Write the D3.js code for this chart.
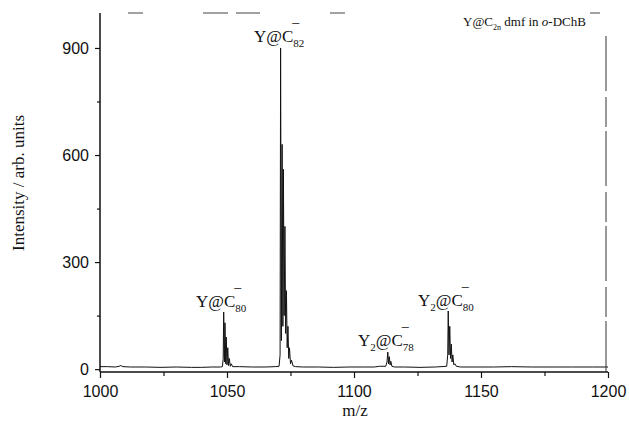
<!DOCTYPE html>
<meta charset="utf-8">
<style>
  body { margin: 0; background: #fff; }
  .tick text { font-family: "Liberation Sans", Arial, sans-serif; font-size: 16px; fill: #111; }
  .lbl { font-family: "Liberation Serif", "Times New Roman", serif; fill: #111; }
</style>
<svg width="629" height="426"></svg>
<script src="https://d3js.org/d3.v7.min.js"></script>
<script>
// spectrum
var mz = [1000, 1003, 1006, 1007.5, 1008.2, 1009, 1012, 1018, 1024, 1030, 1036, 1040, 1044, 1047.5,
  1048.2, 1048.5, 1048.7, 1049.0, 1049.2, 1049.5, 1049.7, 1050.0, 1050.3, 1050.6, 1050.9, 1051.3, 1051.7, 1052.2,
  1055, 1060, 1065, 1069, 1070.5, 1070.9, 1071.1, 1071.4, 1071.7, 1072.0, 1072.2, 1072.5, 1072.8, 1073.1,
  1073.4, 1073.7, 1074.0, 1074.3, 1074.6, 1075.0, 1075.4, 1076, 1077, 1080, 1086, 1092, 1098, 1104, 1108,
  1110, 1112.5, 1113.0, 1113.3, 1113.6, 1113.9, 1114.2, 1114.5, 1114.9, 1116, 1120, 1126, 1132, 1136.5,
  1136.9, 1137.1, 1137.4, 1137.7, 1138.0, 1138.3, 1138.6, 1138.9, 1139.3, 1139.7, 1140.3, 1142, 1148, 1155,
  1162, 1170, 1178, 1186, 1194, 1200];
var intensity = [7, 7, 6, 8, 10, 7, 6, 6, 5, 6, 5, 5, 6, 6,
  7, 30, 160, 20, 130, 15, 90, 12, 60, 10, 30, 8, 15, 7,
  7, 6, 6, 7, 8, 40, 900, 80, 630, 120, 560, 150, 400, 100,
  220, 60, 120, 30, 60, 15, 25, 9, 7, 6, 6, 5, 6, 6, 6,
  8, 8, 20, 48, 15, 35, 12, 22, 8, 6, 6, 5, 6, 8,
  40, 163, 40, 120, 30, 70, 20, 40, 12, 15, 8, 6, 6, 6,
  7, 6, 6, 6, 6, 6];
var xTicks = [1000, 1050, 1100, 1150, 1200];
var xMinor = [1025, 1075, 1125, 1175];
var yTicks = [0, 300, 600, 900];
var yMinor = [150, 450, 750];
var peakLabels = [
  {pre: "Y", n: "", post: "@C", sub: "82", mz: 1071.1, x: 254, y: 42},
  {pre: "Y", n: "", post: "@C", sub: "80", mz: 1048.7, x: 196, y: 307},
  {pre: "Y", n: "2", post: "@C", sub: "78", mz: 1113.3, x: 358, y: 346},
  {pre: "Y", n: "2", post: "@C", sub: "80", mz: 1137.1, x: 418, y: 306}
];

var svg = d3.select("svg");
var x = d3.scaleLinear().domain([1000, 1200]).range([100, 608]);
var y = d3.scaleLinear().domain([-8, 998]).range([372, 13]);

var pts = mz.map(function(d, i) { return [d, intensity[i]]; });

svg.append("path")
  .datum(pts)
  .attr("fill", "none")
  .attr("stroke", "#111")
  .attr("stroke-width", 1)
  .attr("d", d3.line().x(function(d) { return x(d[0]); }).y(function(d) { return y(d[1]); }));

// axes
var xAxis = svg.append("g").attr("transform", "translate(0,372)")
  .call(d3.axisBottom(x).tickValues(xTicks).tickFormat(d3.format("d")).tickSize(6).tickPadding(8));
svg.append("g").attr("transform", "translate(0,372)")
  .call(d3.axisBottom(x).tickValues(xMinor).tickFormat("").tickSize(4))
  .select(".domain").remove();
var yAxis = svg.append("g").attr("transform", "translate(100,0)")
  .call(d3.axisLeft(y).tickValues(yTicks).tickSize(5).tickPadding(6));
svg.append("g").attr("transform", "translate(100,0)")
  .call(d3.axisLeft(y).tickValues(yMinor).tickFormat("").tickSize(3))
  .select(".domain").remove();
svg.selectAll(".domain").attr("stroke", "#111").attr("stroke-width", 1.5);
svg.selectAll(".tick line").attr("stroke", "#111").attr("stroke-width", 1.2);
yAxis.select(".domain").attr("d", "M0,372V13");
xAxis.select(".domain").attr("d", "M100,0H608");

// broken frame (scan remnants)
svg.append("line").attr("x1", 606).attr("x2", 606).attr("y1", 36).attr("y2", 372)
  .attr("stroke", "#333").attr("stroke-dasharray", "55,6,30,4").attr("stroke-width", 1);
[[128, 143], [203, 228], [236, 260], [330, 345], [590, 600]].forEach(function(s) {
  svg.append("line").attr("x1", s[0]).attr("x2", s[1]).attr("y1", 13).attr("y2", 13)
    .attr("stroke", "#444").attr("stroke-width", 1);
});

// peak labels
peakLabels.forEach(function(p) {
  var t = svg.append("text").attr("class", "lbl").attr("x", p.x).attr("y", p.y).style("font-size", "17px");
  t.append("tspan").text(p.pre);
  if (p.n) {
    t.append("tspan").attr("dy", 5).style("font-size", "11px").text(p.n);
    t.append("tspan").attr("dy", -5).text(p.post);
  } else {
    t.append("tspan").text(p.post);
  }
  t.append("tspan").attr("dy", 5).style("font-size", "11px").text(p.sub);
  t.append("tspan").attr("dx", -12).attr("dy", -20).style("font-size", "14px").text("\u2013");
});

// title in corner
var ti = svg.append("text").attr("class", "lbl").attr("x", 463).attr("y", 26).style("font-size", "13px");
ti.append("tspan").text("Y@C");
ti.append("tspan").attr("dy", 4).style("font-size", "8px").text("2n");
ti.append("tspan").attr("dy", -4).text(" dmf in ");
ti.append("tspan").style("font-style", "italic").text("o");
ti.append("tspan").text("-DChB");

svg.append("text").attr("class", "lbl")
  .attr("transform", "translate(24,183) rotate(-90)")
  .attr("text-anchor", "middle").style("font-size", "17px")
  .text("Intensity / arb. units");
svg.append("text").attr("class", "lbl")
  .attr("x", 355).attr("y", 416).attr("text-anchor", "middle").style("font-size", "17px")
  .text("m/z");
</script>
